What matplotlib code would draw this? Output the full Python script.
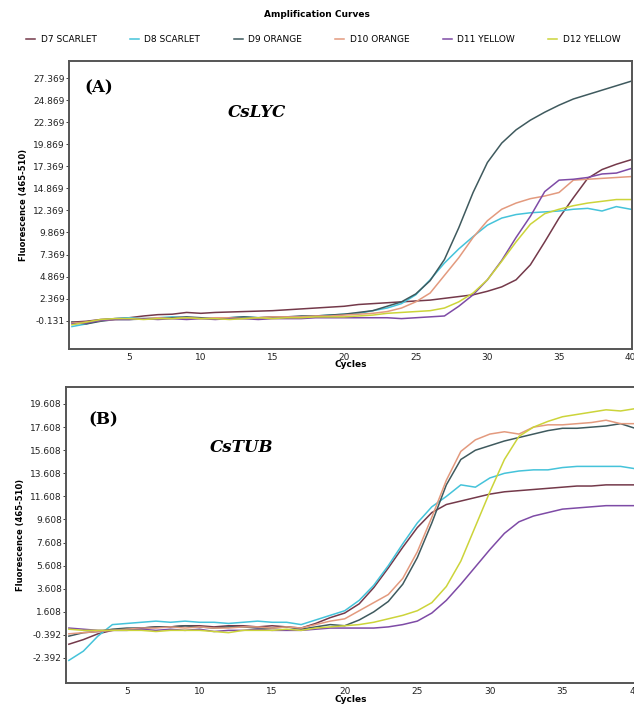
import numpy as np
import matplotlib.pyplot as plt

cycles = np.arange(1, 41)
names = ['D7 SCARLET', 'D8 SCARLET', 'D9 ORANGE', 'D10 ORANGE', 'D11 YELLOW', 'D12 YELLOW']
colors = ['#74394A', '#45C3DA', '#3F5A5E', '#E39A7E', '#7E4BA6', '#CCD43A']

# panel A - CsLYC
a_d7 = [-0.3, -0.2, 0.0, 0.1, 0.2, 0.4, 0.55, 0.6, 0.8, 0.7, 0.8, 0.85, 0.9, 0.95, 1.0, 1.1, 1.2, 1.3, 1.4, 1.5,
        1.7, 1.8, 1.9, 2.0, 2.1, 2.2, 2.4, 2.6, 2.8, 3.2, 3.7, 4.5, 6.2, 8.8, 11.5, 13.8, 16.0, 17.0, 17.6, 18.1]
a_d8 = [-0.8, -0.5, -0.1, 0.1, 0.2, 0.1, 0.2, 0.3, 0.2, 0.2, 0.1, 0.2, 0.3, 0.2, 0.2, 0.3, 0.3, 0.4, 0.5, 0.6,
        0.7, 1.0, 1.3, 1.8, 2.8, 4.5, 6.4, 8.0, 9.4, 10.7, 11.5, 11.9, 12.1, 12.2, 12.3, 12.5, 12.6, 12.3, 12.8, 12.5]
a_d9 = [-0.3, -0.5, -0.2, 0.0, 0.0, 0.05, 0.1, 0.2, 0.3, 0.2, 0.1, 0.2, 0.3, 0.2, 0.3, 0.3, 0.4, 0.4, 0.5, 0.6,
        0.8, 1.0, 1.5, 2.0, 2.9, 4.4, 6.8, 10.4, 14.4, 17.8, 20.0, 21.5, 22.6, 23.5, 24.3, 25.0, 25.5, 26.0, 26.5, 27.0]
a_d10 = [-0.4, -0.3, -0.1, 0.0, 0.1, 0.1, 0.2, 0.1, 0.2, 0.1, 0.2, 0.2, 0.1, 0.2, 0.3, 0.3, 0.3, 0.4, 0.4, 0.5,
         0.6, 0.7, 0.9, 1.3, 2.0, 3.0, 5.0, 7.0, 9.3, 11.2, 12.5, 13.2, 13.7, 14.0, 14.4, 15.8, 15.9, 16.0, 16.1, 16.2]
a_d11 = [-0.5, -0.4, -0.1, 0.0, 0.0, 0.1, 0.0, 0.1, 0.0, 0.1, 0.0, 0.1, 0.1, 0.0, 0.1, 0.1, 0.1, 0.2, 0.2, 0.2,
         0.2, 0.2, 0.2, 0.1, 0.2, 0.3, 0.4, 1.5, 2.8, 4.5, 6.7, 9.3, 11.7, 14.5, 15.8, 15.9, 16.1, 16.5, 16.6, 17.1]
a_d12 = [-0.6, -0.3, 0.0, 0.1, 0.1, 0.0, 0.1, 0.1, 0.2, 0.1, 0.1, 0.0, 0.1, 0.2, 0.1, 0.2, 0.2, 0.3, 0.3, 0.3,
         0.4, 0.5, 0.7, 0.8, 0.9, 1.0, 1.3, 2.0, 3.0, 4.5, 6.6, 8.8, 10.8, 12.0, 12.5, 12.9, 13.2, 13.4, 13.6, 13.6]

# panel B - CsTUB
b_d7 = [-1.2, -0.8, -0.3, 0.0, 0.1, 0.2, 0.3, 0.3, 0.4, 0.4, 0.3, 0.4, 0.4, 0.3, 0.4, 0.3, 0.2, 0.6, 1.1, 1.5,
        2.3, 3.7, 5.4, 7.2, 8.9, 10.2, 10.9, 11.2, 11.5, 11.8, 12.0, 12.1, 12.2, 12.3, 12.4, 12.5, 12.5, 12.6, 12.6, 12.6]
b_d8 = [-2.6, -1.8, -0.5, 0.5, 0.6, 0.7, 0.8, 0.7, 0.8, 0.7, 0.7, 0.6, 0.7, 0.8, 0.7, 0.7, 0.5, 0.9, 1.3, 1.7,
        2.6, 3.9, 5.6, 7.5, 9.3, 10.7, 11.6, 12.6, 12.4, 13.2, 13.6, 13.8, 13.9, 13.9, 14.1, 14.2, 14.2, 14.2, 14.2, 14.0]
b_d9 = [-0.5, -0.2, -0.1, 0.1, 0.2, 0.2, 0.3, 0.3, 0.4, 0.3, 0.2, 0.3, 0.3, 0.2, 0.2, 0.3, 0.1, 0.3, 0.5, 0.4,
        0.9, 1.6, 2.5, 4.0, 6.3, 9.3, 12.6, 14.8, 15.6, 16.0, 16.4, 16.7, 17.0, 17.3, 17.5, 17.5, 17.6, 17.7, 17.9, 17.5]
b_d10 = [-0.3, -0.2, -0.1, 0.0, 0.1, 0.2, 0.2, 0.3, 0.2, 0.3, 0.2, 0.2, 0.3, 0.3, 0.2, 0.3, 0.2, 0.5, 0.8, 1.0,
         1.7, 2.4, 3.1, 4.5, 6.8, 9.8, 13.0, 15.5, 16.5, 17.0, 17.2, 17.0, 17.6, 17.8, 17.8, 17.9, 18.0, 18.2, 17.9, 17.9]
b_d11 = [0.2, 0.1, 0.0, 0.0, 0.0, 0.1, 0.0, 0.1, 0.0, 0.1, -0.1, 0.0, 0.0, 0.1, 0.0, 0.0, 0.0, 0.1, 0.2, 0.2,
         0.2, 0.2, 0.3, 0.5, 0.8, 1.5, 2.6, 4.0, 5.5, 7.0, 8.4, 9.4, 9.9, 10.2, 10.5, 10.6, 10.7, 10.8, 10.8, 10.8]
b_d12 = [0.1, 0.0, 0.0, 0.0, 0.0, 0.0, -0.1, 0.0, 0.0, 0.0, -0.1, -0.2, 0.0, 0.0, 0.0, 0.1, 0.0, 0.2, 0.3, 0.4,
         0.5, 0.7, 1.0, 1.3, 1.7, 2.4, 3.8, 6.0, 9.0, 12.0, 14.8, 16.8, 17.6, 18.1, 18.5, 18.7, 18.9, 19.1, 19.0, 19.2]

a_ticks = [-0.131 + 2.5 * k for k in range(12)]
b_ticks = [-2.392 + 2.0 * k for k in range(12)]
x_ticks = [5, 10, 15, 20, 25, 30, 35, 40]


def draw_panel(ax, series, yticks, ylim, tag, gene, tag_pos, gene_pos):
    for vals, c, n in zip(series, colors, names):
        ax.plot(cycles, vals, color=c, lw=1.1, label=n)
    ax.set_xlim(0.8, 40.1)
    ax.set_ylim(*ylim)
    ax.set_xticks(x_ticks)
    ax.set_yticks(yticks)
    ax.set_yticklabels(['%.3f' % t for t in yticks])
    ax.tick_params(axis='both', labelsize=6.5, length=2, width=0.6, pad=1, colors='#222222')
    ax.tick_params(axis='x', length=0, pad=3)
    for s in ax.spines.values():
        s.set_color('#555555')
        s.set_linewidth(1.4)
    ax.set_xlabel('Cycles', fontsize=6.5, fontweight='bold', labelpad=-1)
    ax.set_ylabel('Fluorescence (465-510)', fontsize=6, fontweight='bold', labelpad=4)
    ax.text(tag_pos[0], tag_pos[1], tag, transform=ax.transAxes, family='DejaVu Serif',
            fontsize=12, fontweight='bold', va='center')
    ax.text(gene_pos[0], gene_pos[1], gene, transform=ax.transAxes, family='DejaVu Serif',
            fontsize=12, fontweight='bold', style='italic', va='center')


fig = plt.figure(figsize=(6.34, 7.10), dpi=100)
ax1 = fig.add_axes([0.109, 0.509, 0.888, 0.405])
ax2 = fig.add_axes([0.104, 0.038, 0.900, 0.417])

draw_panel(ax1, [a_d7, a_d8, a_d9, a_d10, a_d11, a_d12], a_ticks, (-3.3, 29.3),
           '(A)', 'CsLYC', (0.028, 0.906), (0.282, 0.82))
draw_panel(ax2, [b_d7, b_d8, b_d9, b_d10, b_d11, b_d12], b_ticks, (-4.56, 21.08),
           '(B)', 'CsTUB', (0.039, 0.89), (0.253, 0.794))

fig.text(0.5, 0.979, 'Amplification Curves', ha='center', va='center',
         fontsize=6.5, fontweight='bold')
handles, labels = ax1.get_legend_handles_labels()
fig.legend(handles, labels, loc='center', bbox_to_anchor=(0.51, 0.944), ncol=6,
           frameon=False, fontsize=6.5, handlelength=1.0, handletextpad=0.6,
           columnspacing=3.7, borderaxespad=0)

fig.savefig('out.png', dpi=100)
